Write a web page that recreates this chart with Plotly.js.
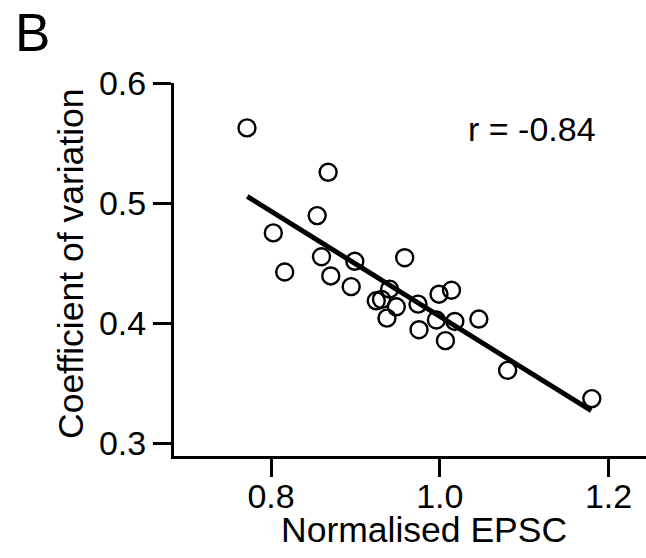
<!DOCTYPE html>
<html>
<head>
<meta charset="utf-8">
<script src="https://cdn.plot.ly/plotly-3.0.1.min.js"></script>
<style>html,body{margin:0;padding:0;background:#fff;}#chart{width:646px;height:558px;}</style>
</head>
<body>
<div id="chart"></div>
<script>
// Data
var epsc = [0.7715, 0.8677, 0.8547, 0.8027, 0.8598, 0.8993, 0.8162, 0.8708, 0.8950, 0.9584,
            0.9405, 0.9247, 0.9310, 0.9485, 0.9374, 0.9742, 0.9754, 0.9991, 1.0139, 0.9960,
            1.0178, 1.0463, 1.0067, 1.0804, 1.1802];
var cv   = [0.5626, 0.5256, 0.4895, 0.4751, 0.4552, 0.4514, 0.4425, 0.4392, 0.4303, 0.4544,
            0.4282, 0.4185, 0.4196, 0.4135, 0.4041, 0.4157, 0.3944, 0.4240, 0.4273, 0.4025,
            0.4013, 0.4033, 0.3853, 0.3605, 0.3370];
var fitX = [0.7718, 1.1795];
var fitY = [0.5055, 0.3269];
var xTicks = [0.8, 1.0, 1.2];
var xTickText = ['0.8', '1.0', '1.2'];
var yTicks = [0.3, 0.4, 0.5, 0.6];
var yTickText = ['0.3', '0.4', '0.5', '0.6'];
var rLabel = 'r = -0.84';
var panelLabel = 'B';
var xTitle = 'Normalised EPSC';
var yTitle = 'Coefficient of variation';

var FONT = 'Liberation Sans, Arial, Helvetica, sans-serif';
var W = 646, H = 558, ML = 174, MR = 0, MT = 83, MB = 102;
var PW = W - ML - MR, PH = H - MT - MB;
function px(x) { return (x - ML) / PW; }
function py(y) { return (H - MB - y) / PH; }

var traces = [
  {
    x: epsc, y: cv, type: 'scatter', mode: 'markers',
    marker: {symbol: 'circle-open', size: 17, color: '#000', line: {width: 2.4, color: '#000'}},
    hoverinfo: 'x+y', showlegend: false
  },
  {
    x: fitX, y: fitY, type: 'scatter', mode: 'lines',
    line: {color: '#000', width: 5}, hoverinfo: 'skip', showlegend: false
  }
];

var layout = {
  width: W, height: H,
  margin: {l: ML, r: MR, t: MT, b: MB, pad: 0},
  paper_bgcolor: '#fff', plot_bgcolor: '#fff',
  font: {family: FONT, size: 34, color: '#000'},
  showlegend: false,
  xaxis: {
    range: [0.685, 0.685 + PW / 843.75],
    tickvals: xTicks, ticktext: xTickText,
    ticks: 'outside', ticklen: 18, tickwidth: 3, tickcolor: '#000',
    ticklabelstandoff: -10,
    showline: true, linewidth: 3, linecolor: '#000',
    showgrid: false, zeroline: false,
    tickfont: {family: FONT, size: 34, color: '#000'},
    fixedrange: true
  },
  yaxis: {
    range: [0.6 - PH / 1200, 0.6],
    tickvals: yTicks, ticktext: yTickText,
    ticks: 'outside', ticklen: 18, tickwidth: 3, tickcolor: '#000',
    showline: true, linewidth: 3, linecolor: '#000',
    showgrid: false, zeroline: false,
    tickfont: {family: FONT, size: 34, color: '#000'},
    fixedrange: true
  },
  annotations: [
    {text: panelLabel, xref: 'paper', yref: 'paper', x: px(13), y: py(33),
     xanchor: 'left', yanchor: 'middle', showarrow: false,
     font: {family: FONT, size: 53, color: '#000'}},
    {text: rLabel, xref: 'paper', yref: 'paper', x: px(532), y: py(129),
     xanchor: 'center', yanchor: 'middle', showarrow: false,
     font: {family: FONT, size: 34, color: '#000'}},
    {text: xTitle, xref: 'paper', yref: 'paper', x: px(424), y: py(530),
     xanchor: 'center', yanchor: 'middle', showarrow: false,
     font: {family: FONT, size: 35.5, color: '#000'}},
    {text: yTitle, xref: 'paper', yref: 'paper', x: px(71), y: py(264),
     xanchor: 'center', yanchor: 'middle', textangle: -90, showarrow: false,
     font: {family: FONT, size: 35.5, color: '#000'}}
  ]
};

Plotly.newPlot('chart', traces, layout, {displayModeBar: false, staticPlot: true});
</script>
</body>
</html>
